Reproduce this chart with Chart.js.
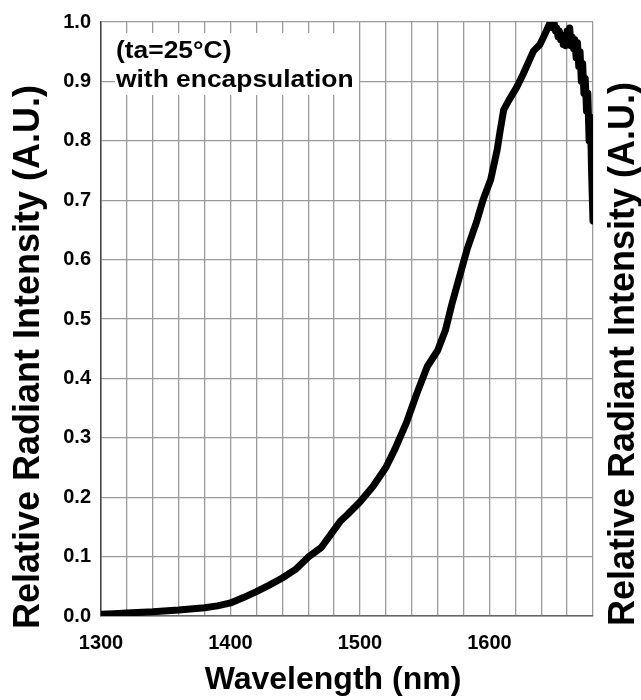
<!DOCTYPE html>
<html lang="en">
<head>
<meta charset="UTF-8">
<title>Relative Radiant Intensity vs Wavelength</title>
<script src="https://cdn.jsdelivr.net/npm/chart.js"></script>
<style>
  html, body { margin: 0; padding: 0; background: #fff; }
  #wrap { width: 641px; height: 700px; position: relative; }
</style>
</head>
<body>
<div id="wrap"><canvas id="spectrum"></canvas></div>
<script>
// values
const wavelengths = [
  1300, 1310, 1320, 1340, 1360, 1380, 1390, 1400, 1410, 1420,
  1430, 1440, 1450, 1460, 1465, 1470, 1480, 1485, 1490, 1500,
  1510, 1520, 1527, 1536, 1544, 1552, 1560, 1566, 1571, 1578,
  1583, 1590, 1595, 1601, 1606, 1608, 1611, 1615, 1621, 1626,
  1634, 1639, 1644, 1647, 1648, 1649, 1650, 1651, 1652, 1653,
  1654, 1655, 1656, 1657, 1658, 1659, 1660, 1661, 1662, 1663,
  1664, 1665, 1666, 1667, 1668, 1669, 1670, 1671, 1672, 1673,
  1674, 1675, 1676, 1677, 1678, 1679, 1680
];
const intensity = [
  0.003, 0.004, 0.005, 0.007, 0.010, 0.014, 0.017, 0.022, 0.031, 0.041,
  0.052, 0.064, 0.078, 0.099, 0.107, 0.115, 0.145, 0.160, 0.170, 0.192,
  0.218, 0.250, 0.281, 0.326, 0.375, 0.420, 0.447, 0.481, 0.525, 0.580,
  0.619, 0.663, 0.700, 0.735, 0.785, 0.813, 0.852, 0.868, 0.890, 0.912,
  0.951, 0.962, 0.985, 1.000, 0.995, 0.990, 0.998, 0.985, 0.990, 0.975,
  0.985, 0.970, 0.978, 0.962, 0.975, 0.960, 0.985, 0.965, 0.990, 0.960,
  0.975, 0.955, 0.970, 0.940, 0.965, 0.925, 0.950, 0.900, 0.930, 0.880,
  0.905, 0.850, 0.880, 0.800, 0.840, 0.740, 0.665
];
const xTickLabels = [1300, 1400, 1500, 1600];
const noteLines = ['(ta=25°C)', 'with encapsulation'];
const yTitle = 'Relative Radiant Intensity (A.U.)';
const xTitle = 'Wavelength (nm)';

const FONT = '"Liberation Sans", Arial, Helvetica, sans-serif';

function rotatedTitle(ctx, text, x, y) {
  ctx.save();
  ctx.translate(x, y);
  ctx.rotate(-Math.PI / 2);
  ctx.fillText(text, 0, 0);
  ctx.restore();
}

// note box in the upper left corner + axis titles (left and right are the same)
const extras = {
  id: 'extras',
  beforeDatasetsDraw(chart) {
    const {ctx, chartArea} = chart;
    ctx.save();
    ctx.fillStyle = '#fff';
    ctx.fillRect(chartArea.left + 14, 33, 244, 62);
    ctx.fillStyle = '#000';
    ctx.font = 'bold 24px ' + FONT;
    ctx.textBaseline = 'alphabetic';
    ctx.textAlign = 'left';
    ctx.translate(chartArea.left + 15, 0);
    ctx.scale(1.1, 1);
    ctx.fillText(noteLines[0], 0, 58);
    ctx.fillText(noteLines[1], 0, 87);
    ctx.restore();
  },
  afterDraw(chart) {
    const {ctx, chartArea} = chart;
    ctx.save();
    ctx.fillStyle = '#000';
    ctx.textAlign = 'center';
    ctx.font = 'bold 32px ' + FONT;
    ctx.textBaseline = 'alphabetic';
    ctx.fillText(xTitle, (chartArea.left + chartArea.right) / 2 - 14, 689);
    ctx.font = 'bold 36px ' + FONT;
    ctx.textBaseline = 'middle';
    rotatedTitle(ctx, yTitle, 29, 357);
    rotatedTitle(ctx, yTitle, 624, 354);
    ctx.restore();
  }
};

new Chart(document.getElementById('spectrum'), {
  type: 'scatter',
  data: {
    datasets: [{
      data: wavelengths.map((w, i) => ({x: w, y: intensity[i]})),
      showLine: true,
      borderColor: '#000',
      borderWidth: 7,
      borderJoinStyle: 'round',
      borderCapStyle: 'round',
      pointRadius: 0,
      tension: 0
    }]
  },
  options: {
    responsive: true,
    maintainAspectRatio: false,
    animation: false,
    layout: { padding: { top: 14, right: 48, left: 0, bottom: 0 } },
    plugins: { legend: { display: false }, tooltip: { enabled: false } },
    scales: {
      x: {
        type: 'linear',
        min: 1300,
        max: 1680,
        afterFit: s => { s.height = 84; },
        ticks: {
          stepSize: 20,
          autoSkip: false,
          maxRotation: 0,
          padding: 15,
          color: '#000',
          font: { family: FONT, size: 20, weight: 'bold' },
          callback: v => xTickLabels.includes(v) ? String(v) : ''
        },
        grid: { color: '#9a9a9a', lineWidth: 1.3, drawTicks: false },
        border: { color: '#666', width: 1.5 }
      },
      y: {
        min: 0,
        max: 1,
        afterFit: s => { s.width = 101; },
        ticks: {
          stepSize: 0.1,
          padding: 10,
          color: '#000',
          font: { family: FONT, size: 20, weight: 'bold' },
          callback: v => v.toFixed(1)
        },
        grid: { color: '#9a9a9a', lineWidth: 1.3, drawTicks: false },
        border: { color: '#444', width: 1.5 }
      }
    }
  },
  plugins: [extras]
});
</script>
</body>
</html>
